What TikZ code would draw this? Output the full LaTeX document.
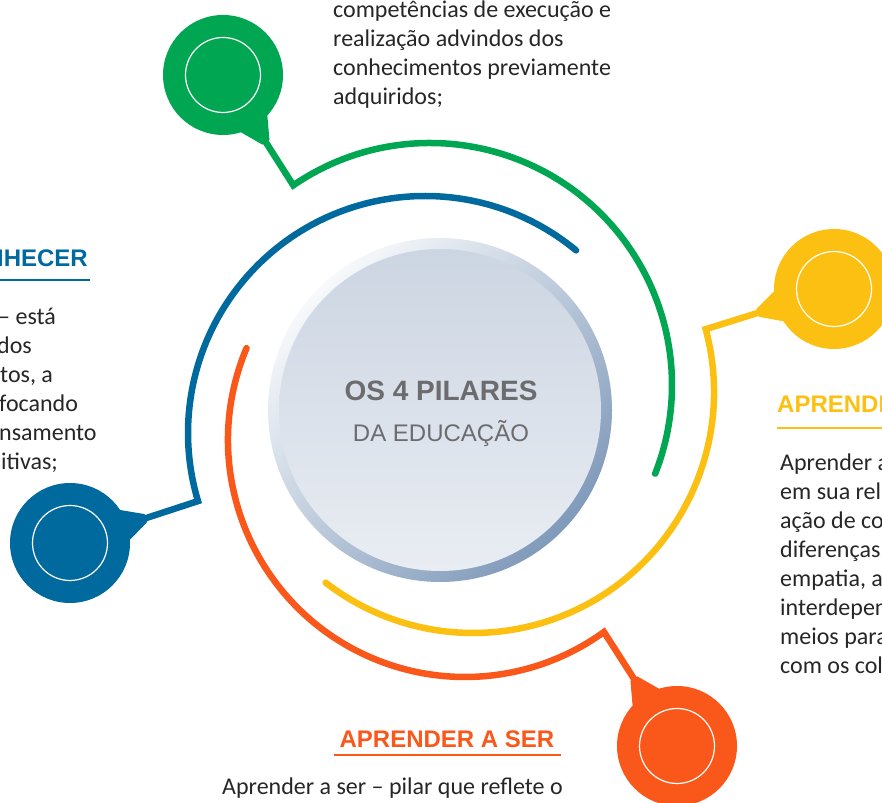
\documentclass[tikz,border=0pt]{standalone}
\usepackage{fontspec}
\setmainfont{Carlito}
\newfontfamily\arialfont{Liberation Sans}
\usepackage{tikz}
\usetikzlibrary{calc}

\definecolor{cverde}{RGB}{0,166,81}
\definecolor{cazul}{RGB}{0,106,158}
\definecolor{camarelo}{RGB}{252,192,18}
\definecolor{claranja}{RGB}{250,87,26}
\definecolor{texto}{RGB}{38,38,38}
\definecolor{cinza}{RGB}{108,108,110}
\definecolor{anelclaro}{RGB}{247,249,251}
\definecolor{anelescuro}{RGB}{128,154,186}
\definecolor{discotopo}{RGB}{204,213,226}
\definecolor{discobase}{RGB}{233,237,243}

\tikzset{
  anel/.style={line width=6.5pt, line cap=round},
  pino/.style={circle, minimum size=120pt, inner sep=0pt,
    path picture={\draw[white, line width=1.2pt] (path picture bounding box.center) circle (37.5pt);}},
  corpo/.style={font=\fontsize{24}{29}\selectfont, text=texto, align=left, inner sep=0pt, anchor=base west},
  titulo/.style={font=\arialfont\bfseries\fontsize{24}{29}\selectfont, inner sep=0pt},
  sublinha/.style={line width=1.5pt},
}

% neck between a pin and its line
\newcommand{\gargalo}[3]{%
  \fill[#1] ([shift={(#3+17:58pt)}]#2.center) -- ([shift={(#3+3:80pt)}]#2.center)
    -- ([shift={(#3-3:80pt)}]#2.center) -- ([shift={(#3-17:58pt)}]#2.center) -- cycle;}

\begin{document}
\begin{tikzpicture}[x=1pt, y=1pt]
\useasboundingbox (0,0) rectangle (882,802);
\clip (0,0) rectangle (882,802);

% centres of the four arcs
\coordinate (cv) at (430,417);
\coordinate (ca) at (425,369);
\coordinate (cm) at (473,410);
\coordinate (cl) at (465,362);
\path (cv) ++(124.4:242pt) coordinate (kv);
\path (ca) ++(50.4:237pt) coordinate (sa);
\path (cm) ++(15.1:241pt) coordinate (km);
\path (cl) ++(157.2:237pt) coordinate (sl);

% pins
\node[pino, fill=cverde] (fazer) at (223,727) {};
\node[pino, fill=cazul] (conhecer) at (70,259) {};
\node[pino, fill=camarelo] (conviver) at (834,513) {};
\node[pino, fill=claranja] (ser) at (677,56) {};
\gargalo{cverde}{fazer}{-57.5}
\gargalo{cazul}{conhecer}{18.2}
\gargalo{camarelo}{conviver}{197.4}
\gargalo{claranja}{ser}{122.6}

% arcs
\draw[anel, cverde] (fazer) -- (kv) arc[start angle=124.4, end angle=-21.5, radius=242pt];
\draw[anel, cazul] (sa) arc[start angle=50.4, end angle=196.7, radius=237pt] -- (conhecer);
\draw[anel, camarelo] (conviver) -- (km) arc[start angle=15.1, end angle=-127.7, radius=241pt];
\draw[anel, claranja] (sl) arc[start angle=157.2, end angle=305.9, radius=237pt] -- (ser);

% centre
\node[circle, minimum size=344pt, inner sep=0pt, top color=anelclaro, bottom color=anelescuro, shading angle=45] (centro) at (440,392) {};
\node[circle, minimum size=322pt, inner sep=0pt, top color=discotopo, bottom color=discobase] (disco) at (centro) {};
\node[font=\arialfont\bfseries\fontsize{28}{34}\selectfont, text=cinza, anchor=base] (pilares) at (441,401) {OS 4 PILARES};
\node[font=\arialfont\fontsize{24}{29}\selectfont, text=cinza, anchor=base] (educacao) at (441,360) {DA EDUCAÇÃO};

% texts (anchor on the last line)
\node[corpo] (tfazer) at (333,697) {competências de execução e\\realização advindos dos\\conhecimentos previamente\\adquiridos;};

\node[titulo, text=cazul, anchor=base east] (hconhecer) at (88,535) {NHECER};
\draw[sublinha, cazul] ([shift={(-20,-13)}]hconhecer.base west) -- ([shift={(2,-13)}]hconhecer.base east);
\node[corpo] (tconhecer) at (-2,332) {– está\\\hspace*{-1pt}dos\\\hspace*{2pt}tos, a\\\hspace*{1pt}focando\\\hspace*{1pt}nsamento\\\hspace*{3pt}itivas;};

\node[titulo, text=camarelo, anchor=base west] (hconviver) at (777,389) {APRENDE};
\draw[sublinha, camarelo] ([shift={(0,-15)}]hconviver.base west) -- ([shift={(20,-15)}]hconviver.base east);
\node[corpo] (tconviver) at (780,128) {Aprender a\\em sua rel\\ação de co\\diferenças,\\empatia, a\\interdepen\\meios para\\com os col};

\node[titulo, text=claranja, anchor=base] (hser) at (447,54) {APRENDER A SER};
\draw[sublinha, claranja] ([shift={(-5,-7)}]hser.base west) -- ([shift={(6,-7)}]hser.base east);
\node[corpo] (tser) at (222,8) {Aprender a ser – pilar que reflete o};
\end{tikzpicture}
\end{document}
